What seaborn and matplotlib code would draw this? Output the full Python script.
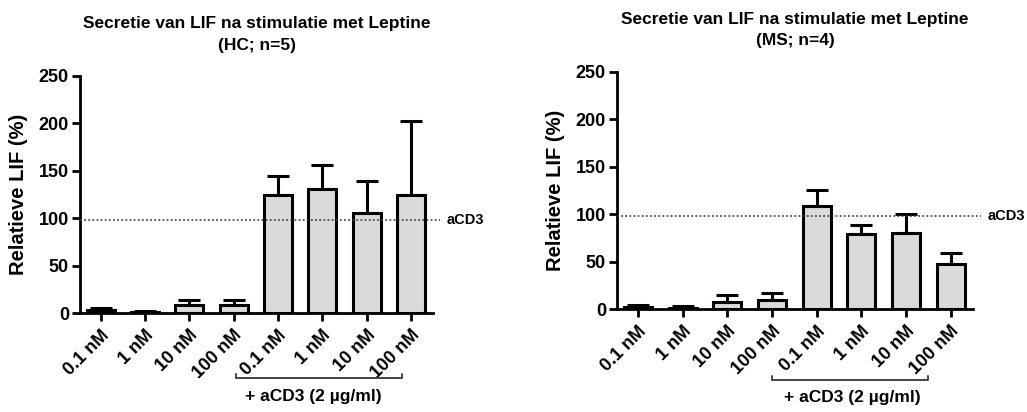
import matplotlib
matplotlib.use("Agg")
import matplotlib.pyplot as plt
import seaborn as sns
import numpy as np
import pandas as pd

# ---- data ----
tick_labels = ["0.1 nM", "1 nM", "10 nM", "100 nM", "0.1 nM", "1 nM", "10 nM", "100 nM"]
conditions = ["L0.1", "L1", "L10", "L100", "A0.1", "A1", "A10", "A100"]

hc_mean = [3, 1, 8, 8.5, 125, 131, 106, 125]
hc_upper = [5, 2, 13.5, 13.5, 145, 156.5, 139, 203]

ms_mean = [2.5, 1.5, 7.7, 9.8, 108, 79, 79.7, 47]
ms_upper = [4.5, 2.8, 14.5, 17, 125, 88, 100, 58.5]

ref_level = 98
titles = ["Secretie van LIF na stimulatie met Leptine\n(HC; n=5)",
          "Secretie van LIF na stimulatie met Leptine\n(MS; n=4)"]
ylabel = "Relatieve LIF (%)"
ref_label = "aCD3"
group_label = "+ aCD3 (2 µg/ml)"

sns.set_theme(style="ticks")
plt.rcParams["font.family"] = ["Liberation Sans", "DejaVu Sans"]
plt.rcParams["font.weight"] = "bold"
for k in ["text.color", "axes.labelcolor", "xtick.color", "ytick.color", "axes.edgecolor"]:
    plt.rcParams[k] = "black"

fig = plt.figure(figsize=(10.27, 4.12), dpi=100)
ax_pos = [
    [80 / 1027, 99 / 412, 353 / 1027, 237 / 412],
    [617 / 1027, 103 / 412, 356 / 1027, 237.3 / 412],
]
bracket = [(3.05, 6.8, -0.274, -0.354), (3.0, 6.5, -0.299, -0.371)]
line_end = [7.65, 7.67]

datasets = [(hc_mean, hc_upper), (ms_mean, ms_upper)]

for i, (means, uppers) in enumerate(datasets):
    ax = fig.add_axes(ax_pos[i])
    df = pd.DataFrame({"cond": conditions, "val": means})
    sns.barplot(data=df, x="cond", y="val", order=conditions, ax=ax,
                color="#dadada", edgecolor="black", linewidth=2.2,
                width=0.63, errorbar=None, zorder=3, saturation=1)
    x = np.arange(len(conditions))
    m = np.array(means)
    u = np.array(uppers)
    ax.errorbar(x, m, yerr=[np.zeros_like(m), u - m], fmt="none",
                ecolor="black", elinewidth=2.2, capsize=8, capthick=2.2, zorder=2)
    ax.plot([-0.47, line_end[i]], [ref_level, ref_level], ls=(0, (1.2, 1.5)),
            color="#333333", lw=1.1, clip_on=False, zorder=4)
    ax.text(line_end[i] + 0.15, ref_level, ref_label, ha="left", va="center",
            fontsize=10.5, fontweight="bold")

    ax.set_xlim(-0.47, 7.5)
    ax.set_ylim(0, 250)
    ax.set_yticks([0, 50, 100, 150, 200, 250])
    ax.set_xticks(x)
    ax.set_xticklabels(tick_labels, rotation=45, ha="right", rotation_mode="anchor",
                       fontsize=13, fontweight="bold")
    for lab in ax.get_yticklabels():
        lab.set_fontsize(13)
        lab.set_fontweight("bold")
    ax.set_xlabel("")
    ax.set_ylabel(ylabel, fontsize=14.5, fontweight="bold", labelpad=8)
    ax.set_title(titles[i], fontsize=12.5, fontweight="bold", pad=19, linespacing=1.55)
    for s in ["top", "right"]:
        ax.spines[s].set_visible(False)
    for s in ["left", "bottom"]:
        ax.spines[s].set_linewidth(2)
        ax.spines[s].set_color("black")
    ax.tick_params(axis="both", width=2, length=6, color="black", pad=2)
    ax.tick_params(axis="x", pad=4)

    # bracket under aCD3 group
    x0, x1, yb, yt = bracket[i]
    tr = ax.get_xaxis_transform()
    ax.plot([x0, x0, x1, x1], [yb + 0.018, yb, yb, yb + 0.018], transform=tr,
            color="#444444", lw=1.4, clip_on=False)
    ax.text(4.8, yt, group_label, transform=tr, ha="center", va="center",
            fontsize=12.5, fontweight="bold")

fig.savefig("out.png", dpi=100)
